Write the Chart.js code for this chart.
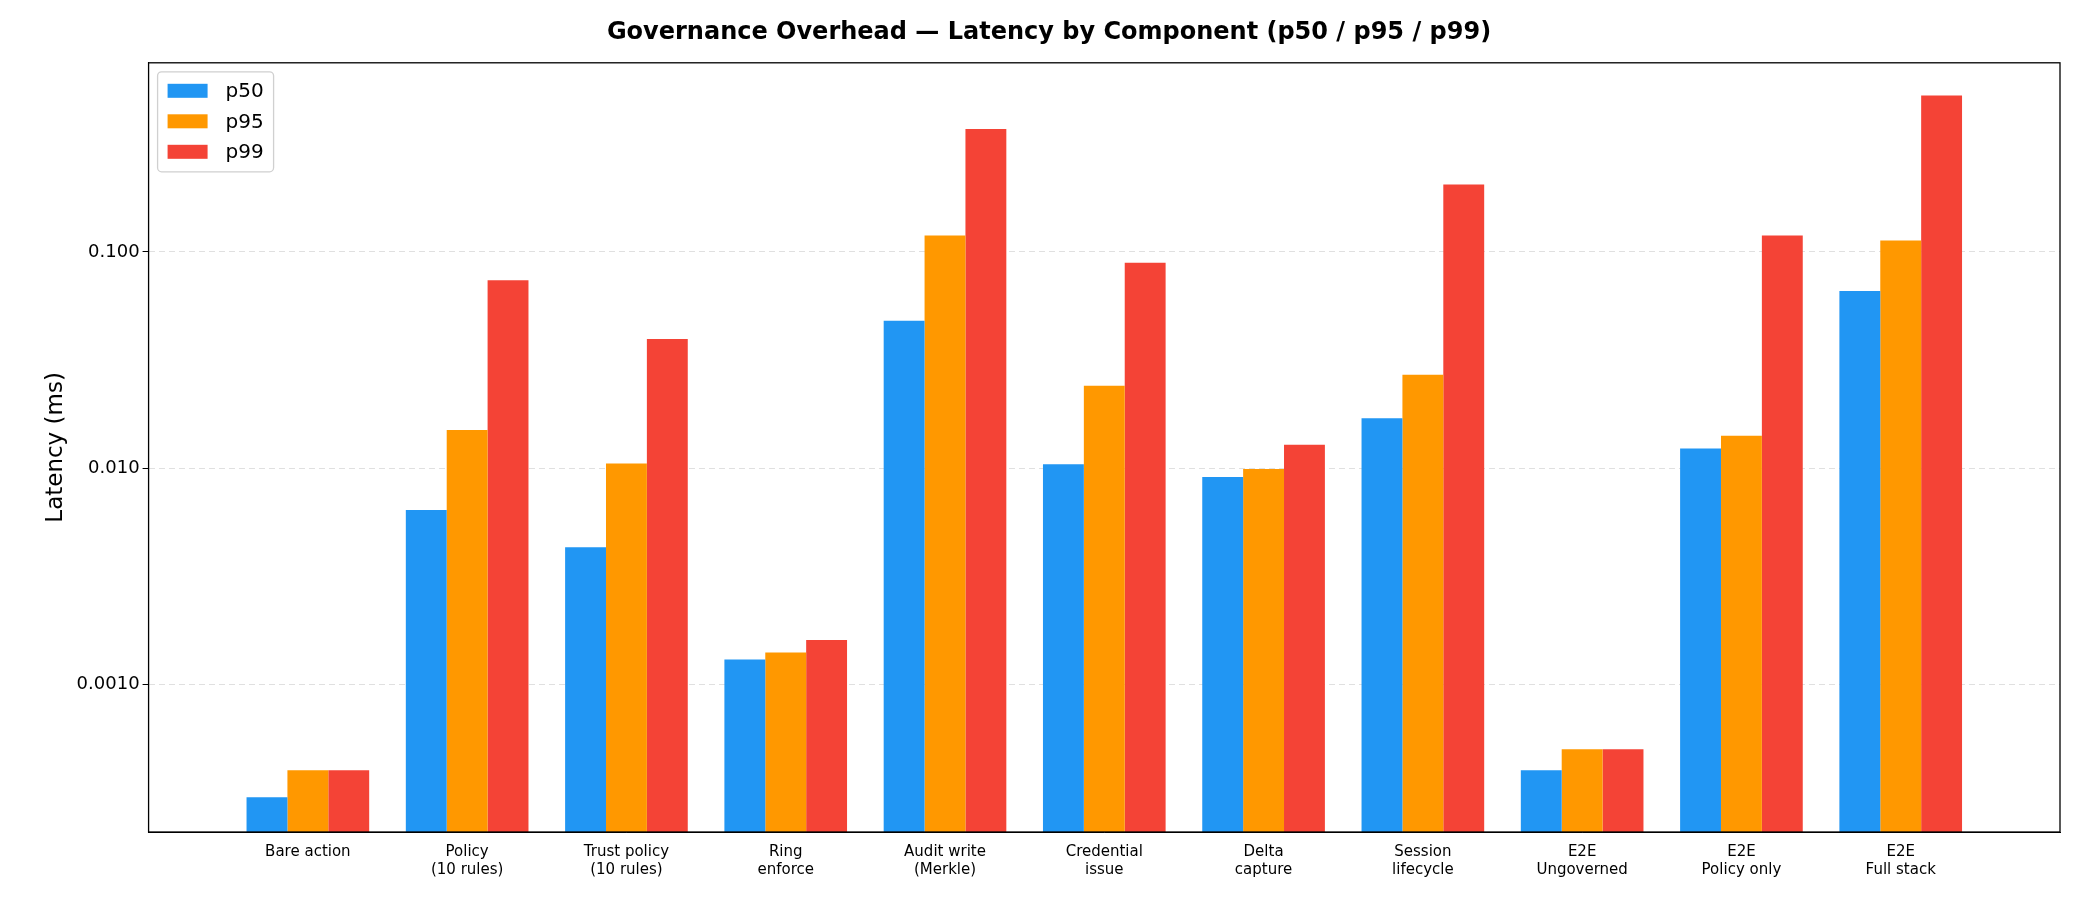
<!DOCTYPE html>
<html><head><meta charset="utf-8">
<script src="https://cdn.jsdelivr.net/npm/chart.js@4/dist/chart.umd.min.js"></script>
<style>html,body{margin:0;padding:0;background:#fff}#w{width:2100px;height:900px}</style>
</head><body><div id="w"><canvas id="c"></canvas></div>
<script>
const categories = [["Bare action"],["Policy","(10 rules)"],["Trust policy","(10 rules)"],["Ring","enforce"],["Audit write","(Merkle)"],["Credential","issue"],["Delta","capture"],["Session","lifecycle"],["E2E","Ungoverned"],["E2E","Policy only"],["E2E","Full stack"]];
const p50 = [0.0003,0.0064,0.0043,0.0013,0.048,0.0104,0.0091,0.017,0.0004,0.0123,0.066];
const p95 = [0.0004,0.0150,0.0105,0.0014,0.119,0.0240,0.0099,0.027,0.0005,0.0141,0.113];
const p99 = [0.0004,0.0740,0.0395,0.0016,0.370,0.0890,0.0128,0.205,0.0005,0.1190,0.530];
const yTicks = [0.001,0.01,0.1];
const tickLabels = ["0.0010","0.010","0.100"];

// blank edge slots to reproduce the reference's side margins
const labels = [""].concat(categories, [""]);
const pad = a => [null].concat(a, [null]);

const legendPlugin = {
  id:'boxLegend',
  afterDraw(chart){
    const {ctx, chartArea:a} = chart;
    ctx.save();
    const x0=a.left+9, y0=a.top+9, w=116, h=100;
    ctx.fillStyle='rgba(255,255,255,0.8)';ctx.strokeStyle='#d0d0d0';ctx.lineWidth=1.3;
    ctx.beginPath();ctx.roundRect(x0,y0,w,h,4);ctx.fill();ctx.stroke();
    ctx.font='20px "DejaVu Sans"';ctx.textBaseline='middle';
    chart.data.datasets.forEach((d,i)=>{
      const y=y0+19+i*30.5;
      ctx.fillStyle=d.backgroundColor;ctx.fillRect(x0+10,y-7,40,14);
      ctx.fillStyle='#000';ctx.fillText(d.label,x0+68,y+1);
    });
    ctx.strokeStyle='#000';ctx.lineWidth=1.3;
    ctx.strokeRect(a.left,a.top,a.right-a.left,a.bottom-a.top);
    ctx.restore();
  }
};

new Chart(document.getElementById('c'),{
  type:'bar',
  data:{labels:labels,datasets:[
    {label:'p50',data:pad(p50),backgroundColor:'#2196F3'},
    {label:'p95',data:pad(p95),backgroundColor:'#FF9800'},
    {label:'p99',data:pad(p99),backgroundColor:'#F44336'}]},
  options:{
    responsive:true,maintainAspectRatio:false,animation:false,
    layout:{padding:{left:38,right:40,top:6,bottom:18}},
    datasets:{bar:{categoryPercentage:0.77,barPercentage:1}},
    plugins:{
      legend:{display:false},
      title:{display:true,text:'Governance Overhead — Latency by Component (p50 / p95 / p99)',
        font:{family:'DejaVu Sans',size:24,weight:'bold'},color:'#000',padding:{top:12,bottom:16}}
    },
    scales:{
      x:{offset:false,grid:{display:false},border:{color:'#000'},
        ticks:{color:'#000',font:{family:'DejaVu Sans',size:15},maxRotation:0,autoSkip:false}},
      y:{type:'logarithmic',min:0.000207,max:0.75,
        afterBuildTicks(s){s.ticks=yTicks.map(v=>({value:v}));},
        ticks:{color:'#000',font:{family:'DejaVu Sans',size:18},
          callback:(v)=>{const i=yTicks.indexOf(v);return i>=0?tickLabels[i]:'';}},
        grid:{color:'rgba(0,0,0,0.12)',tickColor:'#000',tickLength:6,drawTicks:true},
        border:{color:'#000',dash:[6,4]},
        title:{display:true,text:'Latency (ms)',color:'#000',font:{family:'DejaVu Sans',size:23}}}
    }
  },
  plugins:[legendPlugin]
});
</script></body></html>
